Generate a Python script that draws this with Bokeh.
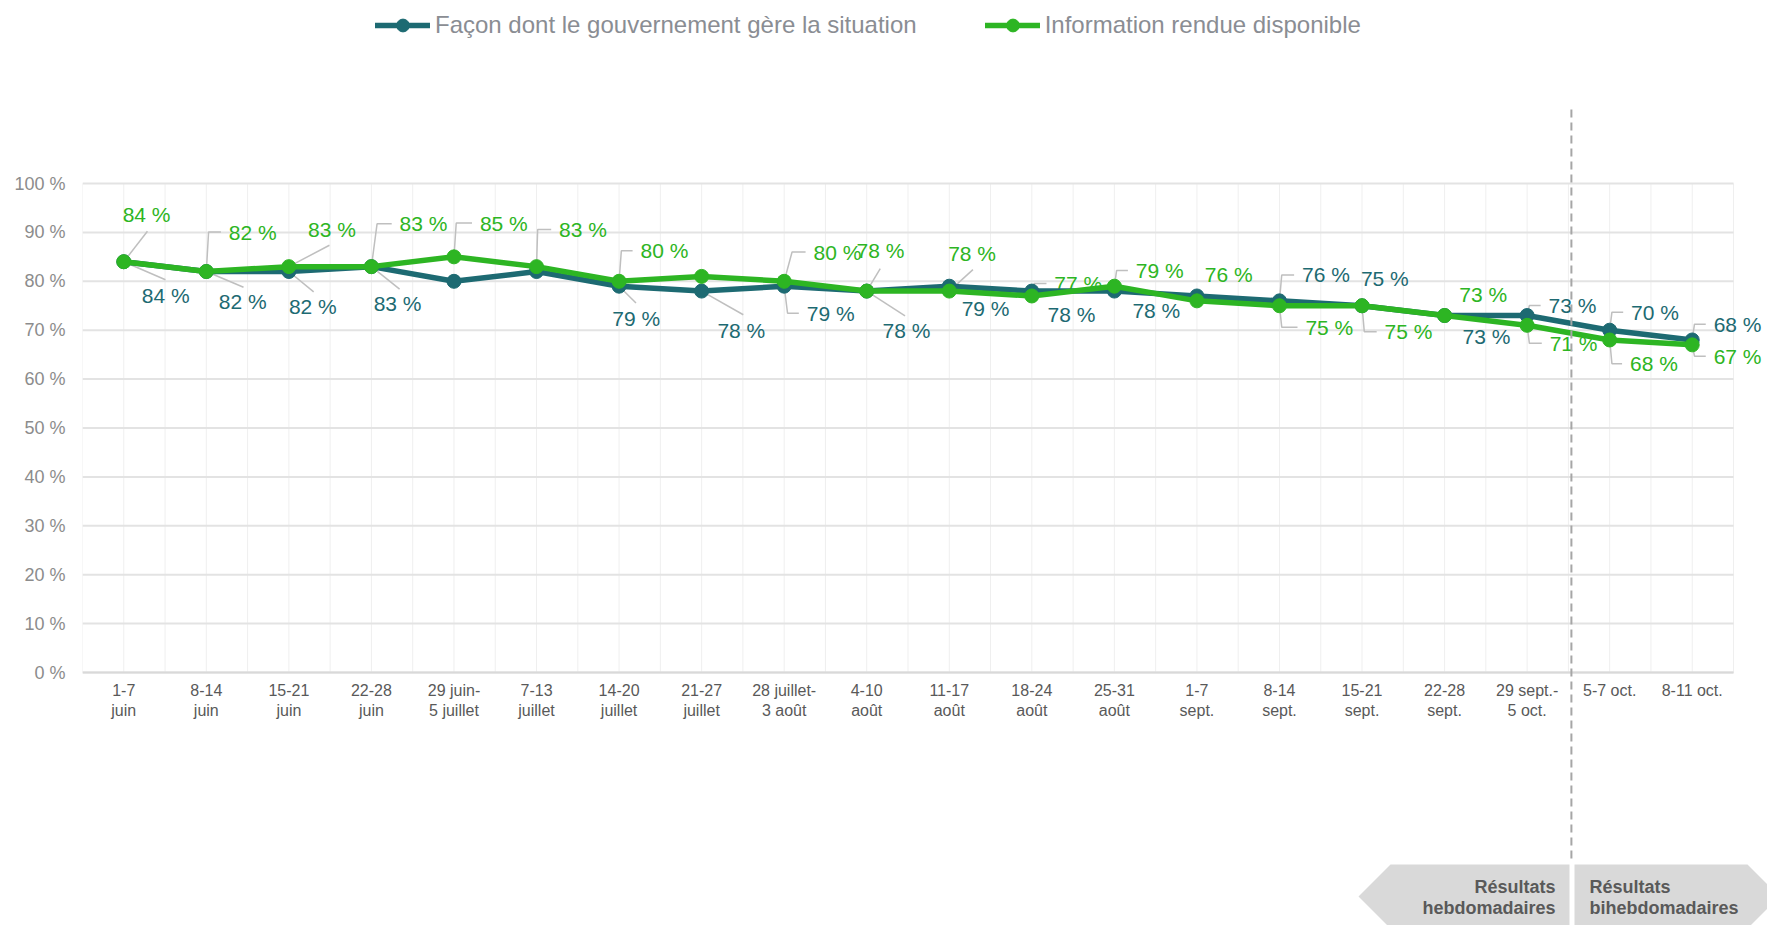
from bokeh.plotting import figure
from bokeh.models import (FixedTicker, PrintfTickFormatter, Legend, LegendItem, ColumnDataSource, Range1d)
from bokeh.core.properties import value
from bokeh.embed import file_html
from bokeh.resources import INLINE

# ---------------- data ----------------
categories = ["1-7\njuin", "8-14\njuin", "15-21\njuin", "22-28\njuin", "29 juin-\n5 juillet",
              "7-13\njuillet", "14-20\njuillet", "21-27\njuillet", "28 juillet-\n3 août", "4-10\naoût",
              "11-17\naoût", "18-24\naoût", "25-31\naoût", "1-7\nsept.", "8-14\nsept.",
              "15-21\nsept.", "22-28\nsept.", "29 sept.-\n5 oct.", "5-7 oct.", "8-11 oct."]
gouvernement = [84, 82, 82, 83, 80, 82, 79, 78, 79, 78, 79, 78, 78, 77, 76, 75, 73, 73, 70, 68]
information = [84, 82, 83, 83, 85, 83, 80, 81, 80, 78, 78, 77, 79, 76, 75, 75, 73, 71, 68, 67]
series_names = ["Façon dont le gouvernement gère la situation", "Information rendue disponible"]
y_ticks = [0, 10, 20, 30, 40, 50, 60, 70, 80, 90, 100]
period_left = ["Résultats", "hebdomadaires"]
period_right = ["Résultats", "bihebdomadaires"]
split_after = 17  # index of last weekly period

# ---------------- style / layout ----------------
TEAL = "#1D6A72"
GREEN = "#2DB523"
FONT = "Liberation Sans"
FIG_W, FIG_H = 1767, 925
PLOT_L, PLOT_R, PLOT_T, PLOT_B = 82, 1733, 183, 672   # plot area in page pixels
N = len(categories)
PXX = (PLOT_R - PLOT_L) / N
PXY = (PLOT_B - PLOT_T) / 100.0
K = 1767 / 1568

# label layouts: (dx, dy, leader) in reference-preview px relative to the point
lay_info = [(-1, -42, (21, -27)), (20, -35, ("elbow", 2)), (17, -33, (36, -19)), (25, -38, ("elbow", 5)),
            (23, -30, ("elbow", 2)), (20, -33, ("elbow", 1)), (19, -27, ("elbow", 2)), None,
            (26, -26, ("elbow", 7)), (-9, -36, (12, -20)), (-1, -33, (21, -19)), (20, -11, ("elbow", 2)),
            (19, -14, ("elbow", 2)), (7, -23, None), (23, 19, ("elbow", 2)), (20, 23, ("elbow", 2)),
            (13, -19, None), (20, 16, ("elbow", 2)), (18, 21, ("elbow", 2)), (19, 10, ("elbow", 2))]
lay_gouv = [(16, 30, (37, 16)), (11, 27, (33, 14)), (0, 31, (22, 18)), (2, 33, (25, 20)),
            None, None, (-6, 29, (15, 15)), (14, 35, (37, 21)), (20, 24, ("elbow", 3)),
            (14, 35, (34, 22)), (11, 20, None), (14, 21, None), (16, 17, None), None,
            (20, -23, ("elbow", 2)), (-1, -24, None), (16, 19, None), (19, -9, ("elbow", 2)),
            (19, -16, ("elbow", 2)), (19, -14, ("elbow", 2))]


def wx(x):  # page px -> data x
    return (x - PLOT_L) / PXX - 0.5


def wy(y):  # page px -> data y
    return (PLOT_B - y) / PXY


p = figure(width=FIG_W, height=FIG_H,
           x_range=Range1d(wx(PLOT_L), wx(FIG_W)), y_range=Range1d(wy(FIG_H), wy(0)),
           output_backend="svg", toolbar_location=None,
           min_border_left=PLOT_L, min_border_right=0, min_border_top=0, min_border_bottom=0)
p.outline_line_color = None
p.background_fill_color = "white"
p.xgrid.visible = False
p.ygrid.visible = False

# axes
p.xaxis.fixed_location = 0
p.xaxis.ticker = FixedTicker(ticks=list(range(N)))
p.xaxis.major_label_overrides = {i: c for i, c in enumerate(categories)}
p.xaxis.major_label_text_font = FONT
p.xaxis.major_label_text_font_size = "16px"
p.xaxis.major_label_text_color = "#595959"
p.xaxis.axis_line_color = None
p.xaxis.major_tick_line_color = None
p.xaxis.minor_tick_line_color = None
p.xaxis.major_tick_out = 0
p.xaxis.major_tick_in = 0
p.xaxis.major_label_standoff = 9

p.yaxis.ticker = FixedTicker(ticks=y_ticks)
p.yaxis.formatter = PrintfTickFormatter(format="%d %%")
p.yaxis.major_label_text_font = FONT
p.yaxis.major_label_text_font_size = "18px"
p.yaxis.major_label_text_color = "#8c8c8c"
p.yaxis.axis_line_color = None
p.yaxis.major_tick_line_color = None
p.yaxis.minor_tick_line_color = None
p.yaxis.major_tick_out = 0
p.yaxis.major_tick_in = 0
p.yaxis.major_label_standoff = 17

# grid lines restricted to the plot area
half = [i * 0.5 - 0.5 for i in range(2 * N + 1)]
p.segment(x0=half, y0=[0] * len(half), x1=half, y1=[100] * len(half),
          line_color="#efefef", line_width=1)
p.segment(x0=[-0.5] * len(y_ticks), y0=y_ticks, x1=[N - 0.5] * len(y_ticks), y1=y_ticks,
          line_color="#e3e3e3", line_width=2)
p.segment(x0=[-0.5], y0=[0], x1=[N - 0.5], y1=[0], line_color="#d9d9d9", line_width=2)


def build_labels(vals, layout):
    tx, ty, txt, xo, yo, lxs, lys = [], [], [], [], [], [], []
    for i, (v, lay) in enumerate(zip(vals, layout)):
        if lay is None:
            continue
        dx, dy, leader = lay
        tx.append(i); ty.append(v); txt.append(f"{v} %")
        xo.append(dx * K); yo.append(dy * K)
        if leader is None:
            continue
        if isinstance(leader[0], str):
            pts = [(0, 0), (leader[1], dy), (dx - 7, dy)]
        else:
            pts = [(0, 0), leader]
        lxs.append([i + ox * K / PXX for ox, _ in pts])
        lys.append([v - oy * K / PXY for _, oy in pts])
    return dict(x=tx, y=ty, text=txt, xo=xo, yo=yo), lxs, lys


lab_g, lx_g, ly_g = build_labels(gouvernement, lay_gouv)
lab_i, lx_i, ly_i = build_labels(information, lay_info)

p.multi_line(xs=lx_g + lx_i, ys=ly_g + ly_i, line_color="#bfbfbf", line_width=1.5)
for lab, col in ((lab_g, TEAL), (lab_i, GREEN)):
    p.text(x="x", y="y", text="text", x_offset="xo", y_offset="yo", source=ColumnDataSource(lab),
           text_font=value(FONT), text_font_size="21px", text_color=col,
           text_align="left", text_baseline="middle")

xs = list(range(N))
r1l = p.line(xs, gouvernement, line_color=TEAL, line_width=5.5, line_join="round", line_cap="round")
r1m = p.scatter(xs, gouvernement, size=14, fill_color=TEAL, line_color=TEAL)
r2l = p.line(xs, information, line_color=GREEN, line_width=5.5, line_join="round", line_cap="round")
r2m = p.scatter(xs, information, size=14, fill_color=GREEN, line_color=GREEN)

# separator between weekly and bi-weekly results
sx = split_after + 0.5 + 3 / PXX
p.segment(x0=[sx], y0=[wy(109)], x1=[sx], y1=[wy(862)], line_color="#a6a6a6",
          line_width=2, line_dash="8 5")

# period banners
p.patches(xs=[[wx(1358), wx(1390), wx(1569), wx(1569), wx(1390)],
              [wx(1574), wx(1747), wx(1779), wx(1747), wx(1574)]],
          ys=[[wy(896), wy(864), wy(864), wy(928), wy(928)],
              [wy(864), wy(864), wy(896), wy(928), wy(928)]],
          fill_color="#d9d9d9", line_color=None)
p.text(x=[wx(1555)] * 2, y=[wy(886), wy(907)], text=period_left, text_align="right",
       text_baseline="middle", text_font=value(FONT), text_font_size="18px",
       text_font_style="bold", text_color="#595959")
p.text(x=[wx(1589)] * 2, y=[wy(886), wy(907)], text=period_right, text_align="left",
       text_baseline="middle", text_font=value(FONT), text_font_size="18px",
       text_font_style="bold", text_color="#595959")

legend = Legend(items=[LegendItem(label=series_names[0], renderers=[r1l, r1m]),
                       LegendItem(label=series_names[1], renderers=[r2l, r2m])],
                orientation="horizontal", location=(375 - PLOT_L, FIG_H - 9 - 32),
                border_line_color=None, background_fill_alpha=0,
                label_text_font=FONT, label_text_font_size="24px", label_text_color="#8a8d93",
                glyph_width=55, glyph_height=32, label_standoff=5, spacing=68,
                padding=0, margin=0)
p.add_layout(legend)

open("out.html", "w").write(file_html(p, INLINE))
